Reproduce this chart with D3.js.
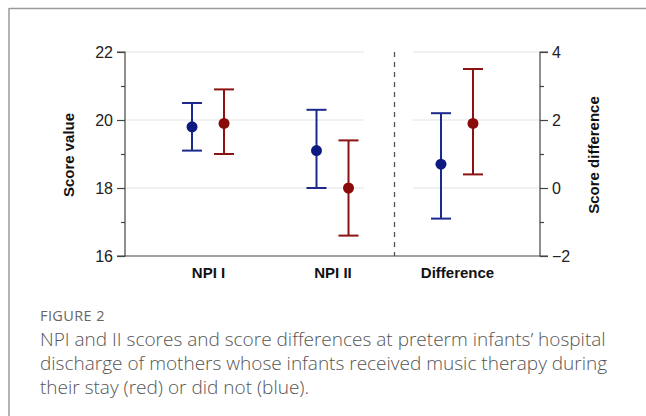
<!DOCTYPE html>
<html><head><meta charset="utf-8">
<script src="https://cdn.jsdelivr.net/npm/d3@7"></script>
<style>
html,body{margin:0;padding:0;background:#fff;}
svg{display:block;}
</style></head>
<body>
<svg id="chart" width="646" height="416"></svg>
<script>
const categories = ["NPI I", "NPI II", "Difference"];
const groups = ["blue", "red"];
// mean, lower, upper for each category (no music therapy = blue, music therapy = red)
const blueMean = [19.8, 19.1, 0.7];
const blueLow  = [19.1, 18.0, -0.9];
const blueHigh = [20.5, 20.3, 2.2];
const redMean  = [19.9, 18.0, 1.9];
const redLow   = [19.0, 16.6, 0.4];
const redHigh  = [20.9, 19.4, 3.5];
const leftTicks = [16, 18, 20, 22];
const leftMinor = [17, 19, 21];
const rightTicks = [-2, 0, 2, 4];
const rightMinor = [-1, 1, 3];
const captionLabel = "FIGURE 2";
const captionLines = [
  "NPI and II scores and score differences at preterm infants\u2019 hospital",
  "discharge of mothers whose infants received music therapy during",
  "their stay (red) or did not (blue)."
];

const colors = {blue: "#1b2a8c", red: "#8c1313"};
const dotColors = {blue: "#0d1a80", red: "#880a0a"};

const svg = d3.select("#chart");
const L = 125, R = 540, T = 52, B = 256;

// frame
svg.append("line").attr("x1", 9).attr("x2", 646).attr("y1", 8.5).attr("y2", 8.5).attr("stroke", "#9a9a9a").attr("stroke-width", 1.5);
svg.append("line").attr("x1", 9).attr("x2", 9).attr("y1", 8).attr("y2", 416).attr("stroke", "#9a9a9a").attr("stroke-width", 1.5);

const yL = d3.scaleLinear().domain([16, 22]).range([B, T]);
const yR = d3.scaleLinear().domain([-2, 4]).range([B, T]);
const x = d3.scalePoint().domain(categories).range([L, R]).padding(0.667);
const off = 16;

// gridlines (per panel)
const gridG = svg.append("g");
[[L, 364], [413, R]].forEach(([a, b]) => {
  gridG.selectAll(null).data([18, 20, 22]).enter().append("line")
    .attr("x1", a).attr("x2", b)
    .attr("y1", d => yL(d)).attr("y2", d => yL(d))
    .attr("stroke", "#e2e2e2").attr("stroke-width", 1);
});

// dashed separator
svg.append("line").attr("x1", 394.5).attr("x2", 394.5).attr("y1", T).attr("y2", B)
  .attr("stroke", "#555").attr("stroke-width", 1.3).attr("stroke-dasharray", "5,5");

// axes
const fontAxis = "Arial, 'Liberation Sans', sans-serif";
const left = svg.append("g").attr("transform", `translate(${L},0)`)
  .call(d3.axisLeft(yL).tickValues(leftTicks).tickFormat(d3.format("d")).tickSize(8).tickPadding(4));
const leftM = svg.append("g").attr("transform", `translate(${L},0)`)
  .call(d3.axisLeft(yL).tickValues(leftMinor).tickFormat("").tickSize(4));
leftM.select(".domain").remove();
const right = svg.append("g").attr("transform", `translate(${R},0)`)
  .call(d3.axisRight(yR).tickValues(rightTicks).tickFormat(d3.format("d")).tickSize(8).tickPadding(4));
const rightM = svg.append("g").attr("transform", `translate(${R},0)`)
  .call(d3.axisRight(yR).tickValues(rightMinor).tickFormat("").tickSize(4));
rightM.select(".domain").remove();
[left, right, leftM, rightM].forEach(g => {
  g.selectAll(".domain").attr("stroke", "#444").attr("stroke-width", 1.2);
  g.selectAll(".tick line").attr("stroke", "#444").attr("stroke-width", 1.2);
  g.selectAll("text").attr("font-family", fontAxis).attr("font-size", 16).attr("fill", "#222");
});
left.select(".domain").attr("d", `M-8,${T}H0V${B}H-8`);
right.select(".domain").attr("d", `M8,${T}H0V${B}H8`);

// bottom axis
const bottom = svg.append("g").attr("transform", `translate(0,${B})`)
  .call(d3.axisBottom(x).tickSize(0).tickPadding(11));
bottom.select(".domain").attr("d", `M${L},0H${R}`).attr("stroke", "#444").attr("stroke-width", 1.2);
bottom.selectAll("text").attr("font-family", fontAxis).attr("font-size", 15).attr("font-weight", "bold").attr("fill", "#111");

// axis titles
svg.append("text").attr("transform", `translate(74,155) rotate(-90)`).attr("text-anchor", "middle")
  .attr("font-family", fontAxis).attr("font-size", 15).attr("font-weight", "bold").attr("fill", "#111")
  .text("Score value");
svg.append("text").attr("transform", `translate(599,155) rotate(-90)`).attr("text-anchor", "middle")
  .attr("font-family", fontAxis).attr("font-size", 15).attr("font-weight", "bold").attr("fill", "#111")
  .text("Score difference");

// data rows
const rows = [];
categories.forEach((c, i) => {
  rows.push({cat: c, g: "blue", m: blueMean[i], lo: blueLow[i], hi: blueHigh[i], ys: i === 2 ? yR : yL, dx: -off});
  rows.push({cat: c, g: "red", m: redMean[i], lo: redLow[i], hi: redHigh[i], ys: i === 2 ? yR : yL, dx: off});
});
const cap = 10;
const eg = svg.append("g").selectAll("g").data(rows).enter().append("g")
  .attr("transform", d => `translate(${x(d.cat) + d.dx},0)`);
eg.append("line").attr("x1", 0).attr("x2", 0).attr("y1", d => d.ys(d.lo)).attr("y2", d => d.ys(d.hi))
  .attr("stroke", d => colors[d.g]).attr("stroke-width", 2);
eg.append("line").attr("x1", -cap).attr("x2", cap).attr("y1", d => d.ys(d.lo)).attr("y2", d => d.ys(d.lo))
  .attr("stroke", d => colors[d.g]).attr("stroke-width", 2);
eg.append("line").attr("x1", -cap).attr("x2", cap).attr("y1", d => d.ys(d.hi)).attr("y2", d => d.ys(d.hi))
  .attr("stroke", d => colors[d.g]).attr("stroke-width", 2);
eg.append("circle").attr("cx", 0).attr("cy", d => d.ys(d.m)).attr("r", 5.5).attr("fill", d => dotColors[d.g]);

// caption
const capFont = "'Open Sans', 'Noto Sans', sans-serif";
svg.append("text").attr("x", 40).attr("y", 321).attr("font-family", capFont).attr("font-size", 14.5)
  .attr("letter-spacing", 0.4).attr("fill", "#666").text(captionLabel);
svg.append("g").selectAll("text").data(captionLines).enter().append("text")
  .attr("x", 40).attr("y", (d, i) => 346 + i * 24)
  .attr("font-family", capFont).attr("font-size", 19).attr("font-weight", 300).attr("fill", "#555")
  .text(d => d);
</script>
</body></html>
